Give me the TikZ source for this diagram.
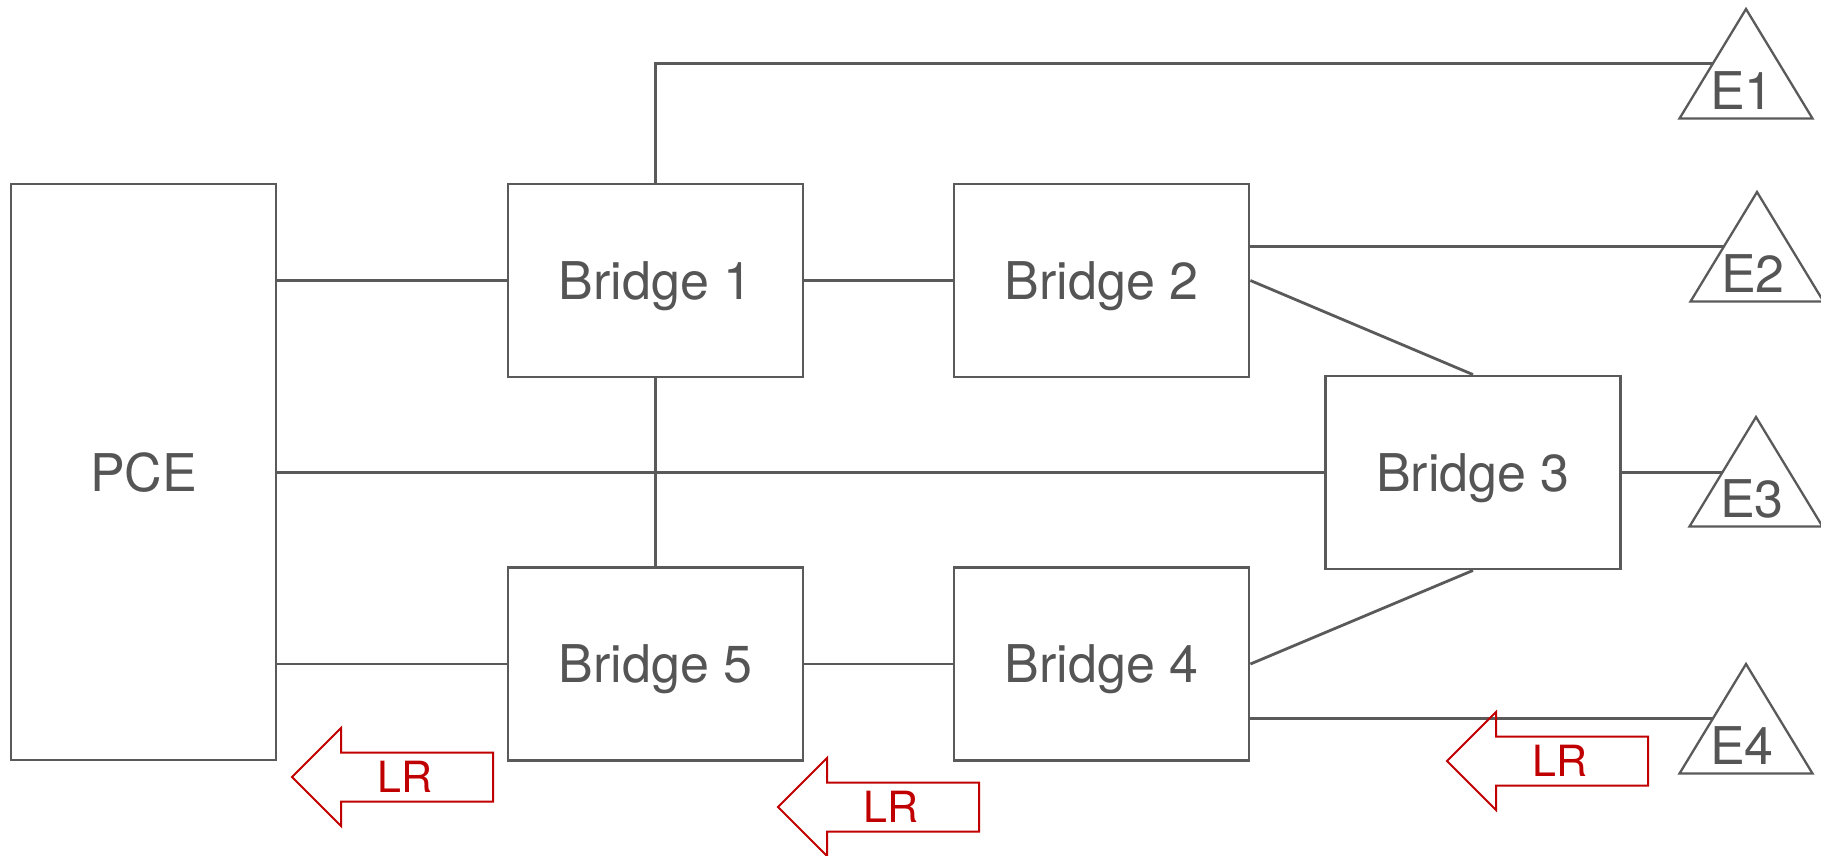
\documentclass[tikz,border=0pt]{standalone}
\usepackage{fontspec}
\setmainfont{TeX Gyre Heros}
\usetikzlibrary{calc}
\definecolor{lc}{HTML}{5A5A5A}
\definecolor{tc}{HTML}{555555}
\definecolor{rc}{HTML}{C00000}
\tikzset{
  box/.style={draw=lc, line width=2.8pt, rectangle, inner sep=0pt, text=tc,
    font=\fontsize{52}{60}\selectfont, text depth=0pt},
  bridge/.style={box, minimum width=295pt, minimum height=193pt},
  conn/.style={draw=lc, line width=2.8pt},
  tri/.style={draw=lc, line width=2.3pt, line join=miter},
  elabel/.style={text=tc, font=\fontsize{52}{60}\selectfont, inner sep=0pt},
  lrshape/.style={draw=rc, line width=2pt, line join=miter},
  lrlabel/.style={text=rc, font=\fontsize{43}{50}\selectfont, inner sep=0pt},
}
\newcommand\lrarrow[3]{%
  \begin{scope}[shift={(#1,#2)}]
    \draw[lrshape] (0,0) -- (49,-49) -- (49,-24.5) -- (201,-24.5) -- (201,24.5)
      -- (49,24.5) -- (49,49) -- cycle;
    \node[lrlabel] (#3) at (113,0) {LR};
  \end{scope}}
\newcommand\etri[4]{%
  \coordinate (#1apex) at (#2,#3);
  \coordinate (#1left) at ($(#1apex)+(-66.5,109.5)$);
  \coordinate (#1right) at ($(#1apex)+(66.5,109.5)$);
  \coordinate (#1in) at ($(#1apex)!0.5!(#1left)$);
  \draw[tri] (#1apex) -- (#1left) -- (#1right) -- cycle;
  \node[elabel] (#1lab) at ($(#1apex)+(-4,82)$) {#4};}
\begin{document}
\begin{tikzpicture}[x=1pt,y=-1pt]
\useasboundingbox (0,0) rectangle (1821,855);
% boxes
\node[box, minimum width=265pt, minimum height=576pt] (pce) at (143.5,472) {PCE};
\node[bridge] (b1) at (655.5,280.5) {Bridge 1};
\node[bridge] (b2) at (1101.5,280.5) {Bridge 2};
\node[bridge] (b3) at (1473,472.5) {Bridge 3};
\node[bridge] (b5) at (655.5,664) {Bridge 5};
\node[bridge] (b4) at (1101.5,664) {Bridge 4};
% end stations
\etri{e1}{1746}{9}{E1}
\etri{e2}{1757}{192}{E2}
\etri{e3}{1756}{417}{E3}
\etri{e4}{1746}{664}{E4}
% connectors
\draw[conn] (pce.east |- b1.west) -- (b1.west);
\draw[conn] (b1.east) -- (b2.west);
\draw[conn] (pce.east |- b3.west) -- (b3.west);
\draw[conn] (pce.east |- b5.west) -- (b5.west);
\draw[conn] (b5.east) -- (b4.west);
\draw[conn] (b1.south) -- (b5.north);
\draw[conn] (b1.north) |- (e1in);
\draw[conn] (b2.east |- e2in) -- (e2in);
\draw[conn] (b2.east) -- (b3.north);
\draw[conn] (b4.east) -- (b3.south);
\draw[conn] (b3.east) -- (b3.east -| e3in);
\draw[conn] (b4.east |- e4in) -- (e4in);
% LR arrows
\lrarrow{292}{777}{lr1}
\lrarrow{778}{807}{lr2}
\lrarrow{1447}{761}{lr3}
\end{tikzpicture}
\end{document}
